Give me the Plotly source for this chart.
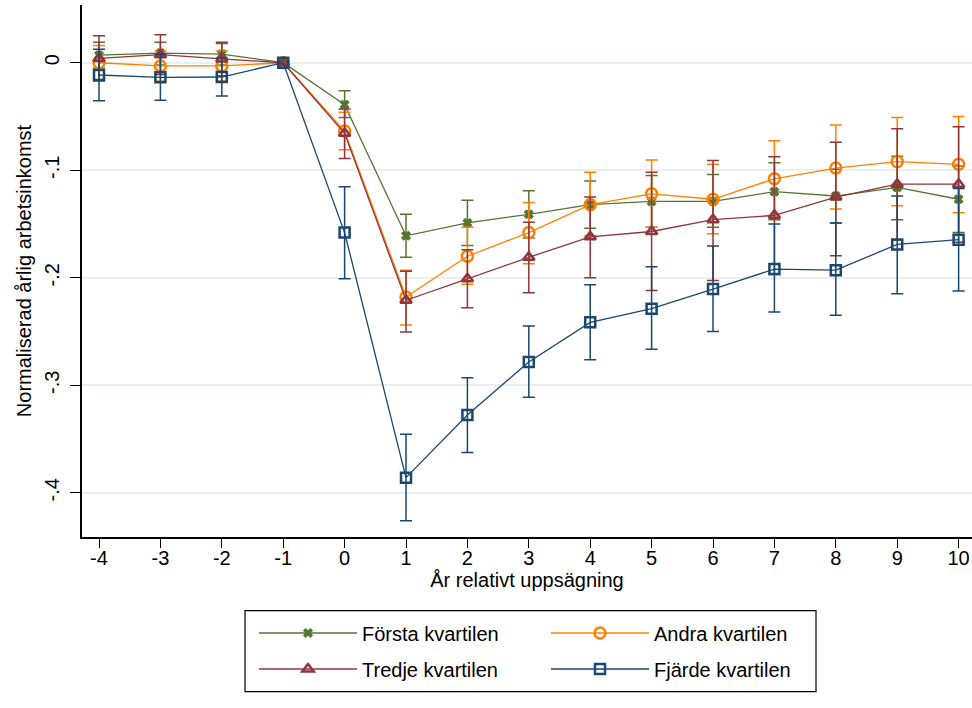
import numpy as np
import plotly.graph_objects as go

# ---------------- data ----------------
years = [-4, -3, -2, -1, 0, 1, 2, 3, 4, 5, 6, 7, 8, 9, 10]

forsta = [0.007, 0.009, 0.008, 0, -0.039, -0.161, -0.149, -0.141, -0.132, -0.129, -0.129, -0.120, -0.124, -0.116, -0.127]
forsta_lo = [-0.005, -0.002, -0.002, None, -0.051, -0.181, -0.170, -0.163, -0.154, -0.153, -0.153, -0.146, -0.149, -0.146, -0.158]
forsta_hi = [0.019, 0.019, 0.018, None, -0.026, -0.141, -0.128, -0.119, -0.110, -0.105, -0.104, -0.093, -0.099, -0.087, -0.096]

andra = [0.0, -0.003, -0.003, 0, -0.0635, -0.218, -0.180, -0.158, -0.132, -0.122, -0.127, -0.108, -0.098, -0.092, -0.0945]
andra_lo = [-0.016, -0.017, -0.017, None, -0.081, -0.244, -0.206, -0.187, -0.161, -0.153, -0.159, -0.144, -0.136, -0.133, -0.1395]
andra_hi = [0.016, 0.011, 0.011, None, -0.046, -0.193, -0.153, -0.130, -0.102, -0.0905, -0.0945, -0.0725, -0.058, -0.051, -0.050]

tredje = [0.004, 0.0075, 0.0035, 0, -0.0657, -0.221, -0.201, -0.181, -0.162, -0.157, -0.146, -0.142, -0.125, -0.113, -0.113]
tredje_lo = [-0.017, -0.011, -0.012, None, -0.089, -0.2505, -0.228, -0.214, -0.200, -0.212, -0.2025, -0.197, -0.1795, -0.165, -0.167]
tredje_hi = [0.025, 0.026, 0.019, None, -0.043, -0.194, -0.174, -0.1485, -0.125, -0.102, -0.091, -0.0874, -0.074, -0.0614, -0.0595]

fjarde = [-0.0114, -0.0136, -0.0133, 0, -0.158, -0.386, -0.3277, -0.2784, -0.2415, -0.2288, -0.2105, -0.192, -0.193, -0.169, -0.1646]
fjarde_lo = [-0.0353, -0.035, -0.031, None, -0.201, -0.426, -0.3625, -0.3113, -0.2763, -0.2666, -0.250, -0.232, -0.235, -0.215, -0.2124]
fjarde_hi = [0.0125, 0.008, 0.0045, None, -0.1153, -0.3457, -0.293, -0.245, -0.2065, -0.1898, -0.1705, -0.150, -0.149, -0.124, -0.117]

series_names = ["Första kvartilen", "Andra kvartilen", "Tredje kvartilen", "Fjärde kvartilen"]

x_tickvals = [-4, -3, -2, -1, 0, 1, 2, 3, 4, 5, 6, 7, 8, 9, 10]
x_ticktext = ["-4", "-3", "-2", "-1", "0", "1", "2", "3", "4", "5", "6", "7", "8", "9", "10"]
y_tickvals = [0, -0.1, -0.2, -0.3, -0.4]
y_ticktext = ["0", "-.1", "-.2", "-.3", "-.4"]

x_title = "År relativt uppsägning"
y_title = "Normaliserad årlig arbetsinkomst"

# ---------------- style ----------------
FONT = "Liberation Sans, Arial, sans-serif"
colors = ["#55752f", "#ff8000", "#90353b", "#1a476f"]
symbols = ["x", "circle-open", "triangle-up-open", "square-open"]
msizes = [8, 11, 10, 10]
mlw = [1, 2.5, 2.5, 2.5]

W, H = 972, 708
ML, MR, MT, MB = 82, 0, 5, 171
PW, PH = W - ML - MR, H - MT - MB


def px2paper_x(px):
    return (px - ML) / PW


def px2paper_y(py):
    return (H - MB - py) / PH


def to_arr(v):
    return np.array([np.nan if a is None else a for a in v], dtype=float)


fig = go.Figure()
data = [
    (forsta, forsta_lo, forsta_hi),
    (andra, andra_lo, andra_hi),
    (tredje, tredje_lo, tredje_hi),
    (fjarde, fjarde_lo, fjarde_hi),
]
legend_ids = ["legend", "legend2", "legend3", "legend4"]
for i, (yv, lo, hi) in enumerate(data):
    y = np.array(yv, dtype=float)
    lo_a, hi_a = to_arr(lo), to_arr(hi)
    fig.add_trace(go.Scatter(
        x=years, y=y, name=series_names[i], mode="lines+markers",
        line=dict(color=colors[i], width=1.3),
        marker=dict(symbol=symbols[i], size=msizes[i], color=colors[i],
                    line=dict(color=colors[i], width=mlw[i])),
        error_y=dict(type="data", symmetric=False, array=hi_a - y, arrayminus=y - lo_a,
                     color=colors[i], thickness=1.5, width=6),
        legend=legend_ids[i],
    ))

# legend positions (pixel positions of each entry's start and row centre)
leg_x_px = [254, 546, 254, 546]
leg_y_px = [633, 633, 669, 669]
layout_legends = {}
for i, lid in enumerate(legend_ids):
    layout_legends[lid] = dict(
        x=px2paper_x(leg_x_px[i]), y=px2paper_y(leg_y_px[i]),
        xanchor="left", yanchor="middle", orientation="h",
        bgcolor="rgba(0,0,0,0)", borderwidth=0, itemwidth=98,
        font=dict(family=FONT, size=20, color="black"),
    )

fig.update_layout(
    width=W, height=H,
    margin=dict(l=ML, r=MR, t=MT, b=MB, pad=0),
    paper_bgcolor="white", plot_bgcolor="white",
    font=dict(family=FONT, size=20, color="black"),
    showlegend=True,
    **layout_legends,
    xaxis=dict(
        range=[-4.277, 10.218], tickvals=x_tickvals, ticktext=x_ticktext,
        ticks="outside", ticklen=9, ticklabelstandoff=-7,
        tickwidth=1, tickcolor="black", showline=True, linecolor="black", linewidth=1.5,
        showgrid=False, zeroline=False, tickfont=dict(size=20),
        title=dict(text=x_title, font=dict(size=20), standoff=3),
    ),
    yaxis=dict(
        range=[-0.4412, 0.0537], tickvals=y_tickvals, ticktext=y_ticktext,
        tickangle=-90, ticks="outside", ticklen=10, tickwidth=1, tickcolor="black",
        ticklabelstandoff=3,
        showline=True, linecolor="black", linewidth=1.5,
        showgrid=True, gridcolor="#eaf0f2", gridwidth=1.5, zeroline=False,
        tickfont=dict(size=20),
        title=dict(text=y_title, font=dict(size=20), standoff=4),
    ),
    shapes=[dict(type="rect", xref="paper", yref="paper",
                 x0=px2paper_x(245), x1=px2paper_x(816),
                 y0=px2paper_y(691.7), y1=px2paper_y(610.7),
                 line=dict(color="black", width=1.2), fillcolor="rgba(0,0,0,0)")],
)

fig.write_html("out.html")
